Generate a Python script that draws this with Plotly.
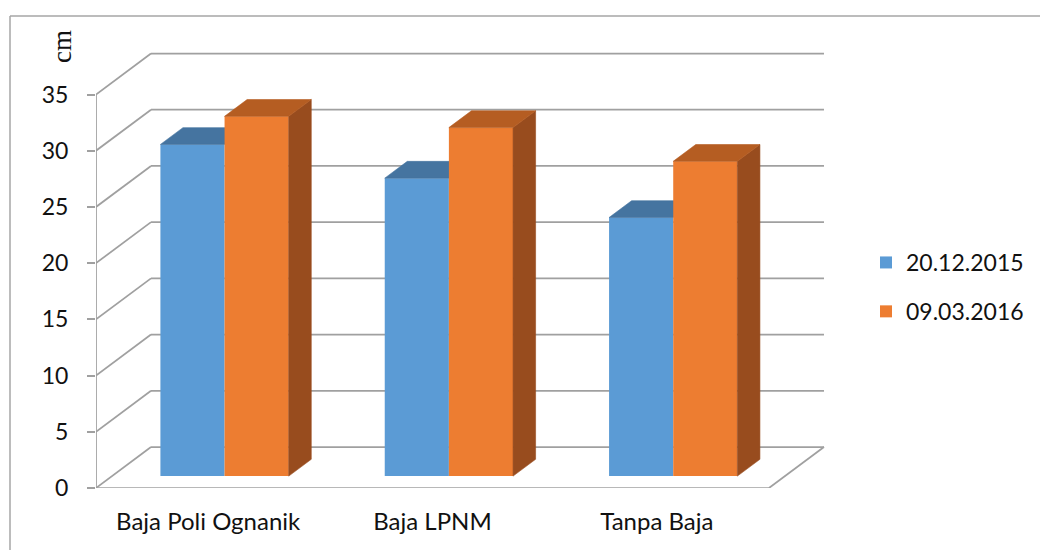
import plotly.graph_objects as go

# ---------------- data ----------------
categories = ["Baja Poli Ognanik", "Baja LPNM", "Tanpa Baja"]
series_names = ["20.12.2015", "09.03.2016"]
values_2015 = [29.5, 26.5, 23.0]
values_2016 = [32.0, 31.0, 28.0]
y_ticks = [0, 5, 10, 15, 20, 25, 30, 35]
y_unit_label = "cm"

# ---------------- geometry / style ----------------
W, H = 1040, 550
ML, MR, MT, MB = 96, 210, 20, 62
PW = W - ML - MR
PH = H - MT - MB
PX_PER_CAT = 224.33
PX_PER_UNIT = 11.243
XR = [-0.5, -0.5 + PW / PX_PER_CAT]
YR = [0, PH / PX_PER_UNIT]

DX = 55 / PX_PER_CAT      # floor depth offset (data units)
DY = 41 / PX_PER_UNIT
D0, D1 = 0.29, 0.70       # bar depth span (fraction of floor depth)
BAR_W = 0.286
OFFSETS = [-0.284, 0.002]

FONT = "Lato"
GRID = "#A0A0A0"
FRONT = ["#5B9BD5", "#ED7D31"]
TOP = ["#4574A0", "#B55D22"]
SIDE = ["#3F6A93", "#984C1E"]


def px_x(p):
    return (p - ML) / PW


def px_y(p):
    return (H - MB - p) / PH


fig = go.Figure()

series = [values_2015, values_2016]
axes = [("x", "y"), ("x2", "y2")]
base = DY * D0
ddx = DX * (D1 - D0)
ddy = DY * (D1 - D0)

for s, vals in enumerate(series):
    xa, ya = axes[s]
    xpos = [i + DX * D0 for i in range(len(categories))]
    fig.add_trace(go.Bar(
        x=xpos, y=vals, base=[base] * len(vals), width=BAR_W, offset=OFFSETS[s],
        marker=dict(color=FRONT[s], line=dict(width=0)),
        name=series_names[s], xaxis=xa, yaxis=ya, legendgroup=series_names[s],
        hoverinfo="skip",
    ))
    tx, ty, sx, sy = [], [], [], []
    for i, v in enumerate(vals):
        x0 = xpos[i] + OFFSETS[s]
        x1 = x0 + BAR_W
        yt = base + v
        tx += [x0, x1, x1 + ddx, x0 + ddx, x0, None]
        ty += [yt, yt, yt + ddy, yt + ddy, yt, None]
        sx += [x1, x1, x1 + ddx, x1 + ddx, x1, None]
        sy += [base, yt, yt + ddy, base + ddy, base, None]
    if s == 1:
        fig.add_trace(go.Scatter(
            x=sx, y=sy, fill="toself", fillcolor=SIDE[s], mode="lines",
            line=dict(color=SIDE[s], width=0.6), showlegend=False,
            xaxis=xa, yaxis=ya, hoverinfo="skip",
        ))
    fig.add_trace(go.Scatter(
        x=tx, y=ty, fill="toself", fillcolor=TOP[s], mode="lines",
        line=dict(color=TOP[s], width=0.6), showlegend=False,
        xaxis=xa, yaxis=ya, hoverinfo="skip",
    ))

# ---------------- walls / gridlines ----------------
shapes = []
left = -0.5
right = len(categories) - 0.5
for v in y_ticks:
    shapes.append(dict(type="line", x0=left + DX, y0=v + DY, x1=right + DX, y1=v + DY,
                       line=dict(color=GRID, width=1.75), layer="below"))
    shapes.append(dict(type="line", x0=left, y0=v, x1=left + DX, y1=v + DY,
                       line=dict(color=GRID, width=1.75), layer="below"))
shapes.append(dict(type="line", x0=right, y0=0, x1=right + DX, y1=DY,
                   line=dict(color=GRID, width=1.75), layer="below"))
# axis lines
shapes.append(dict(type="line", x0=left, y0=0, x1=left, y1=y_ticks[-1],
                   line=dict(color=GRID, width=1.75), layer="below"))
shapes.append(dict(type="line", x0=left, y0=0, x1=right, y1=0,
                   line=dict(color=GRID, width=1.75), layer="below"))
# category tick marks
for k in range(len(categories) + 1):
    shapes.append(dict(type="line", xref="x", yref="y", x0=left + k, x1=left + k,
                       ysizemode="pixel", yanchor=0, y0=0, y1=-8,
                       line=dict(color=GRID, width=1.75), layer="below"))
# chart border (left + top)
shapes.append(dict(type="line", xref="paper", yref="paper",
                   x0=px_x(10), y0=px_y(16), x1=px_x(10), y1=px_y(560),
                   line=dict(color="#A6A6A6", width=1.5)))
shapes.append(dict(type="line", xref="paper", yref="paper",
                   x0=px_x(10), y0=px_y(16), x1=px_x(1045), y1=px_y(16),
                   line=dict(color="#A6A6A6", width=1.5)))

fig.update_layout(
    width=W, height=H,
    margin=dict(l=ML, r=MR, t=MT, b=MB, autoexpand=False),
    paper_bgcolor="white", plot_bgcolor="rgba(0,0,0,0)",
    font=dict(family=FONT, size=23, color="#111111"),
    showlegend=True,
    legend=dict(x=px_x(866), y=px_y(241), xanchor="left", yanchor="top",
                tracegroupgap=16, font=dict(family=FONT, size=23, color="#111111"),
                bgcolor="rgba(0,0,0,0)", itemclick=False, itemdoubleclick=False),
    xaxis=dict(range=XR, showgrid=False, zeroline=False, showline=False,
               tickmode="array", tickvals=list(range(len(categories))), ticktext=categories,
               tickfont=dict(family=FONT, size=24, color="#111111"),
               ticks="", ticklabelstandoff=17, fixedrange=True),
    yaxis=dict(range=YR, showgrid=False, zeroline=False, showline=False,
               tickmode="array", tickvals=y_ticks, ticks="outside", ticklen=8,
               tickfont=dict(family=FONT, size=23, color="#111111"),
               tickwidth=1.75, tickcolor=GRID, ticklabelstandoff=14, fixedrange=True),
    xaxis2=dict(range=XR, overlaying="x", visible=False, fixedrange=True),
    yaxis2=dict(range=YR, overlaying="y", visible=False, fixedrange=True),
    shapes=shapes,
    annotations=[dict(text=y_unit_label, xref="paper", yref="paper",
                      x=px_x(62), y=px_y(47), xanchor="center", yanchor="middle",
                      showarrow=False, textangle=-90,
                      font=dict(family="Liberation Serif", size=27, color="#111111"))],
)

fig.write_html("out.html")
